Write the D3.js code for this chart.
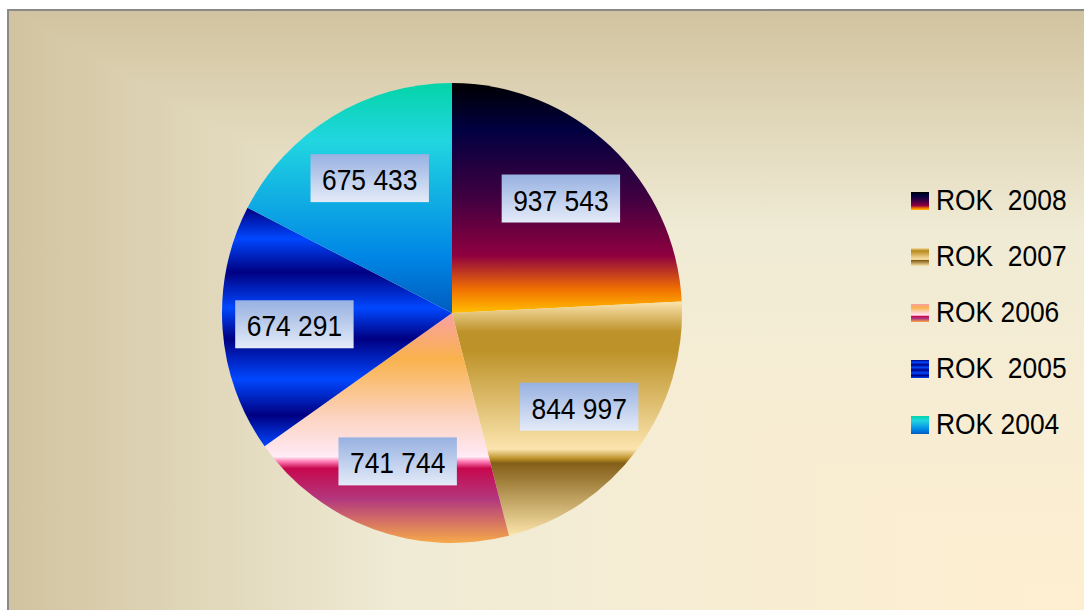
<!DOCTYPE html>
<html>
<head>
<meta charset="utf-8">
<script src="https://cdn.jsdelivr.net/npm/d3@7"></script>
<style>
  html, body { margin: 0; padding: 0; background: #ffffff; }
  svg { display: block; }
  text { font-family: "Liberation Sans", Arial, sans-serif; }
</style>
</head>
<body>
<svg id="chart" width="1084" height="610"></svg>
<script>
// ---- data ----
const categories = ["ROK  2008", "ROK  2007", "ROK 2006", "ROK  2005", "ROK 2004"];
const values = [937543, 844997, 741744, 674291, 675433];

// ---- styles ----
const sliceGradients = [
  // Late Sunset
  [[0, "#000000"], [0.2, "#000040"], [0.5, "#400040"], [0.75, "#8F0040"], [0.9, "#F27300"], [1, "#FFBF00"]],
  // Gold
  [[0, "#FBE4AE"], [0.13, "#BD922A"], [0.21, "#BD9228"], [0.63, "#FBE4AE"], [0.67, "#BD922A"], [0.69, "#835E17"], [1, "#FCE5AB"]],
  // pink / orange
  [[0, "#F9A0A4"], [0.2, "#F9B24C"], [0.45, "#FCD3C0"], [0.6, "#FFE6EE"], [0.625, "#FFEEF6"], [0.645, "#FF80B8"], [0.675, "#C8084E"], [0.81, "#B2387E"], [1, "#F6AA4A"]],
  // Sapphire
  [[0, "#000082"], [0.13, "#0047FF"], [0.27, "#000082"], [0.42, "#0047FF"], [0.55, "#000082"], [0.72, "#0047FF"], [0.87, "#000082"], [1, "#0047FF"]],
  // Ocean
  [[0, "#03D4A8"], [0.25, "#21D6E0"], [0.75, "#0087E6"], [1, "#005CBF"]]
];
const bgStops = [[0, "#D1C39F"], [0.36, "#F0EBD5"], [1, "#FFEFD1"]]; // from edge (t=1) to corner (t=0)
const fontSize = 30, fontScaleX = 0.88;

const frame = { left: 8, top: 10, right: 1100, bottom: 625 };
const cx = 452, cy = 313, radius = 230, labelRadius = 158;

const svg = d3.select("#chart");
const defs = svg.append("defs");

// background: rectangular ("from corner") gradient built from two triangles
const hg = defs.append("linearGradient").attr("id", "bgH").attr("gradientUnits", "userSpaceOnUse")
  .attr("x1", frame.left).attr("y1", 0).attr("x2", frame.right).attr("y2", 0);
hg.selectAll("stop").data(bgStops).join("stop").attr("offset", d => d[0]).attr("stop-color", d => d[1]);
const vg = defs.append("linearGradient").attr("id", "bgV").attr("gradientUnits", "userSpaceOnUse")
  .attr("x1", 0).attr("y1", frame.top).attr("x2", 0).attr("y2", frame.bottom);
vg.selectAll("stop").data(bgStops).join("stop").attr("offset", d => d[0]).attr("stop-color", d => d[1]);

const L = frame.left, T = frame.top, R = frame.right, B = frame.bottom;
svg.append("rect").attr("x", L).attr("y", T).attr("width", R - L).attr("height", B - T).attr("fill", "url(#bgV)");
svg.append("path").attr("d", `M${L},${T}L${L},${B}L${R},${B}Z`).attr("fill", "url(#bgH)")
  .attr("shape-rendering", "crispEdges");
svg.append("path").attr("d", `M${L},${B}L${L},${T}L${R},${T}`)
  .attr("fill", "none").attr("stroke", "#8a8a8a").attr("stroke-width", 2);

// slice gradients
sliceGradients.forEach((stops, i) => {
  const g = defs.append("linearGradient").attr("id", "slice" + i)
    .attr("x1", 0).attr("y1", 0).attr("x2", 0).attr("y2", 1);
  g.selectAll("stop").data(stops).join("stop").attr("offset", d => d[0]).attr("stop-color", d => d[1]);
});
const lg = defs.append("linearGradient").attr("id", "labelBg").attr("x1", 0).attr("y1", 0).attr("x2", 0).attr("y2", 1);
lg.append("stop").attr("offset", 0).attr("stop-color", "#97B1E1");
lg.append("stop").attr("offset", 1).attr("stop-color", "#E4EBF8");

// pie
const data = categories.map((c, i) => ({ cat: c, value: values[i], idx: i }));
const pie = d3.pie().sort(null).value(d => d.value);
const arcs = pie(data);
const arc = d3.arc().innerRadius(0).outerRadius(radius);
const labelArc = d3.arc().innerRadius(labelRadius).outerRadius(labelRadius);

const g = svg.append("g").attr("transform", `translate(${cx},${cy})`);
g.selectAll("path.slice").data(arcs).join("path")
  .attr("class", "slice")
  .attr("d", arc)
  .attr("fill", d => `url(#slice${d.data.idx})`);

// labels
const fmt = d3.formatLocale({ decimal: ",", thousands: " ", grouping: [3], currency: ["", ""] }).format(",d");
const lab = g.selectAll("g.lab").data(arcs).join("g").attr("class", "lab")
  .attr("transform", d => `translate(${labelArc.centroid(d)})`);
const rects = lab.append("rect").attr("fill", "url(#labelBg)");
const texts = lab.append("g").attr("transform", `scale(${fontScaleX},1)`)
  .append("text")
  .attr("text-anchor", "middle")
  .attr("y", 12)
  .attr("font-size", fontSize)
  .attr("fill", "#000")
  .text(d => fmt(d.data.value));
texts.each(function(d, i) {
  const w = this.getComputedTextLength() * fontScaleX + 23;
  d3.select(rects.nodes()[i]).attr("x", -w / 2).attr("y", -24).attr("width", w).attr("height", 48);
});

// legend
const legendY = d3.scalePoint().domain(categories).range([201, 425]);
const leg = svg.append("g").selectAll("g").data(data).join("g")
  .attr("transform", d => `translate(911,${legendY(d.cat)})`);
leg.append("rect").attr("x", 0).attr("y", -9).attr("width", 18).attr("height", 18)
  .attr("fill", d => `url(#slice${d.idx})`);
leg.append("g").attr("transform", `translate(25,8.5) scale(${fontScaleX},1)`)
  .append("text")
  .attr("font-size", fontSize)
  .attr("fill", "#000")
  .style("white-space", "pre")
  .text(d => d.cat);
</script>
</body>
</html>
